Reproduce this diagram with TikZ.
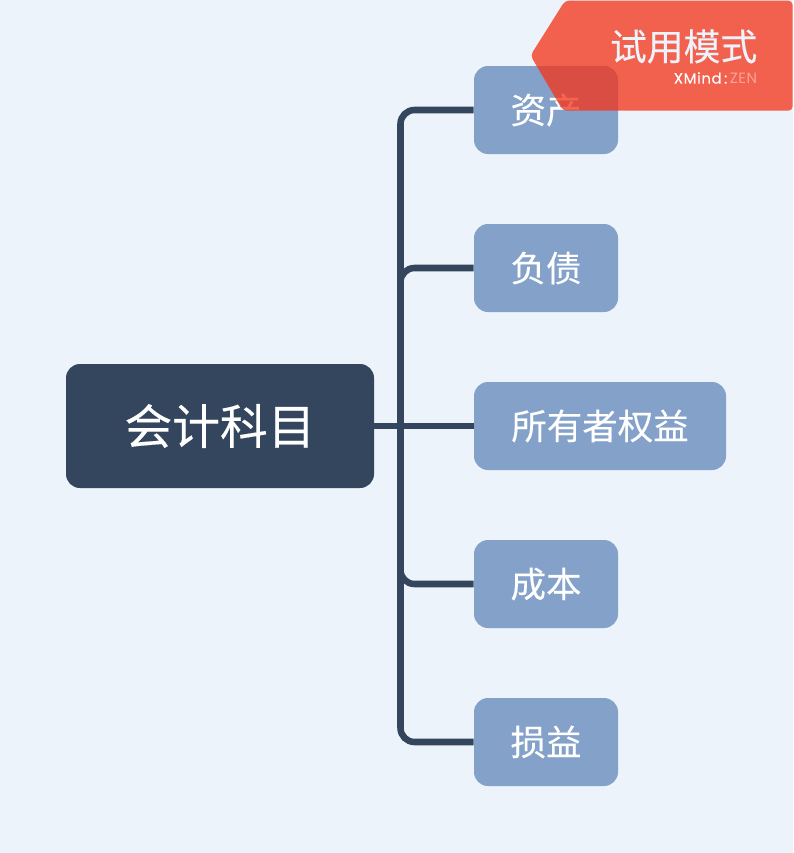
\documentclass[tikz,border=0pt]{standalone}
\usepackage{fontspec}
\newfontfamily\cjk[FakeBold=0.25]{Noto Sans CJK SC}
\newfontfamily\latnb[FakeBold=0.3,LetterSpace=4]{Poppins}
\newfontfamily\latnl[LetterSpace=4]{Poppins}
\definecolor{bgc}{HTML}{ECF3FA}
\definecolor{darkc}{HTML}{34465E}
\definecolor{kidc}{HTML}{84A1CA}
\definecolor{wmc}{HTML}{F43318}
\tikzset{
  kidbox/.style={fill=kidc,rounded corners=10.5pt,inner sep=0pt,minimum height=66pt,text=white,font=\cjk\fontsize{26.6pt}{30pt}\selectfont},
  conn/.style={draw=darkc,line width=4.9pt,rounded corners=10.5pt},
  kidtext/.style={yshift=0.7pt},
}
\begin{document}
\begin{tikzpicture}[x=0.75pt,y=-0.75pt]
\useasboundingbox (0,0) rectangle (793,853);
\fill[bgc] (0,0) rectangle (793,853);
\coordinate (trunk) at (400.5,426);
\node[fill=darkc,rounded corners=10.5pt,inner sep=0pt,minimum width=231pt,minimum height=93pt,text=white,font=\cjk\fontsize{35.8pt}{40pt}\selectfont] (root) at (220,426) {\raisebox{0.7pt}{会计科目}};
\node[kidbox,minimum width=108pt] (a) at (546,110) {\raisebox{0.7pt}{资产}};
\node[kidbox,minimum width=108pt] (b) at (546,268) {\raisebox{0.7pt}{负债}};
\node[kidbox,minimum width=189pt] (c) at (600,426) {\raisebox{0.7pt}{所有者权益}};
\node[kidbox,minimum width=108pt] (d) at (546,584) {\raisebox{0.7pt}{成本}};
\node[kidbox,minimum width=108pt] (e) at (546,742) {\raisebox{0.7pt}{损益}};
\draw[conn] (root.east) -- (c.west);
\draw[conn] (trunk) |- (a.west);
\draw[conn] (trunk) |- (b.west);
\draw[conn] (trunk) |- (d.west);
\draw[conn] (trunk) |- (e.west);
\fill[wmc,fill opacity=.76,rounded corners=3pt] (565,0.7) -- (792.5,0.7) -- (792.5,110.7) -- (563,110.7) -- (530.5,55.5) -- cycle;
\node[anchor=east,inner sep=0pt,text=bgc,font=\cjk\fontsize{27.6pt}{30pt}\selectfont] (wm) at (757.5,46.5) {试用模式};
\node[anchor=east,inner sep=0pt,text=white,font=\fontsize{11.2pt}{12pt}\selectfont] (brand) at (757.5,78) {{\latnb XMind}\,{\latnb:}\,\textcolor{white!55!wmc}{\latnl ZEN}};
\end{tikzpicture}
\end{document}
